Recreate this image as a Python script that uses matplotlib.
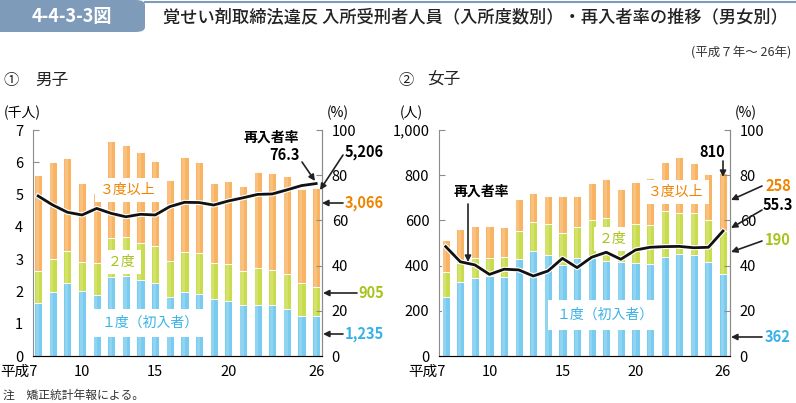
import numpy as np
import matplotlib.pyplot as plt
import matplotlib.patheffects as pe
import matplotlib.transforms as mtransforms
from matplotlib.patches import FancyBboxPatch

plt.rcParams['font.family'] = ['Noto Sans CJK JP', 'DejaVu Sans']

# ---------------- data ----------------
years = list(range(7, 27))   # 平成7年～26年
xlabels = ['平成7', '', '', '10', '', '', '', '', '15', '', '', '', '', '20', '', '', '', '', '', '26']

# 男子 (人)
m_first = [1630, 1970, 2250, 2020, 1880, 2460, 2490, 2350, 2270, 1840,
           1970, 1920, 1770, 1710, 1570, 1590, 1580, 1460, 1250, 1235]
m_second = [1010, 1020, 1010, 880, 1000, 1210, 1200, 1160, 1140, 1110,
            1260, 1280, 1120, 1130, 1070, 1140, 1090, 1090, 1020, 905]
m_third = [2960, 3010, 2870, 2470, 2170, 2990, 2840, 2820, 2630, 2500,
           2940, 2800, 2480, 2590, 2630, 2960, 2990, 3010, 2900, 3066]
m_rate = [70.8, 66.8, 63.6, 62.4, 65.3, 63.1, 61.6, 62.7, 62.4, 66.1,
          68.0, 67.9, 66.8, 68.6, 70.0, 71.5, 71.7, 73.5, 75.4, 76.3]

# 女子 (人)
f_first = [262, 326, 344, 354, 351, 429, 466, 445, 401, 432,
           432, 420, 417, 410, 406, 440, 450, 447, 417, 362]
f_second = [111, 84, 88, 78, 86, 125, 128, 139, 142, 140,
            170, 189, 155, 172, 174, 202, 184, 184, 185, 190]
f_third = [140, 150, 143, 143, 132, 141, 129, 125, 164, 136,
           162, 173, 167, 189, 209, 218, 248, 225, 203, 258]
f_rate = [48.4, 41.7, 40.3, 36.1, 38.4, 38.1, 35.4, 37.6, 43.2, 39.1,
          43.7, 45.9, 42.8, 46.9, 48.1, 48.4, 48.5, 47.9, 48.1, 55.3]

c_blue = '#7acbf0'
c_green = '#c9dc4e'
c_orange = '#f8b463'
t_blue = '#38b2e6'
t_green = '#a9c21c'
t_orange = '#f08300'
gray = '#8c8c8c'

W, H = 796, 403
fig = plt.figure(figsize=(W / 100, H / 100), dpi=100)


def fx(x):
    return x / W


def fy(y):
    return 1 - y / H


def ftext(x, y, s, **kw):
    fig.text(fx(x), fy(y), s, **kw)


def arrow(x0, y0, x1, y1):
    fig.add_artist(plt.Annotation('', xy=(fx(x1), fy(y1)), xytext=(fx(x0), fy(y0)),
                                  xycoords='figure fraction', textcoords='figure fraction',
                                  arrowprops=dict(arrowstyle='-|>', color='#222222', lw=1.2,
                                                  mutation_scale=9, shrinkA=0, shrinkB=0)))


def draw_panel(rect, first, second, third, rate, scale, ymax, yticks, yticklabels, xlim):
    ax = fig.add_axes(rect)
    x = np.arange(len(years))
    a = np.array(first) / scale
    b = np.array(second) / scale
    c = np.array(third) / scale
    kw = dict(width=0.56, edgecolor='white', linewidth=0.7, zorder=2)
    ax.bar(x, a, color=c_blue, **kw)
    ax.bar(x, b, bottom=a, color=c_green, **kw)
    ax.bar(x, c, bottom=a + b, color=c_orange, **kw)
    # light sheen on bars
    ax.bar(x - 0.06, a + b + c, width=0.22, color='white', alpha=0.18, linewidth=0, zorder=3)
    ax.set_xlim(*xlim)
    ax.set_ylim(0, ymax)
    ax.set_yticks(yticks)
    ax.set_yticklabels(yticklabels)
    ax.set_xticks(x)
    ax.set_xticklabels(xlabels)
    # 「平成7」は7が棒の下に来るよう右寄せ
    first_lab = ax.get_xticklabels()[0]
    first_lab.set_ha('right')
    first_lab.set_transform(first_lab.get_transform() +
                            mtransforms.ScaledTranslation(4 / 100, 0, fig.dpi_scale_trans))
    ax.spines['top'].set_visible(False)
    for s in ['left', 'bottom', 'right']:
        ax.spines[s].set_color(gray)
        ax.spines[s].set_linewidth(0.8)
    ax.tick_params(axis='y', direction='in', length=4, width=0.8, color=gray, labelsize=10.5, pad=7)
    ax.tick_params(axis='x', length=0, labelsize=10.5, pad=6.5)

    ax2 = ax.twinx()
    ax2.set_ylim(0, 100)
    ax2.set_yticks([0, 20, 40, 60, 80, 100])
    ax2.spines['top'].set_visible(False)
    ax2.spines['right'].set_color(gray)
    ax2.spines['right'].set_linewidth(0.8)
    ax2.spines['left'].set_visible(False)
    ax2.tick_params(axis='y', direction='in', length=4, width=0.8, color=gray, labelsize=10.5, pad=7)
    ax2.plot(x, rate, color='#111111', lw=2.0, zorder=5, solid_joinstyle='round',
             path_effects=[pe.Stroke(linewidth=3.6, foreground='white'), pe.Normal()])
    return ax, ax2


# ---------------- header ----------------
fig.add_artist(FancyBboxPatch((fx(-10), fy(32)), fx(155), fy(0) - fy(32),
                              boxstyle='round,pad=0,rounding_size=0.012',
                              transform=fig.transFigure, facecolor='#7e9bba', edgecolor='none'))
fig.add_artist(plt.Line2D([fx(145), 1], [fy(2), fy(2)], transform=fig.transFigure,
                          color='#7e9bba', lw=1.5))
ftext(72, 17, '4-4-3-3図', color='white', fontsize=13, fontweight='bold', ha='center', va='center')
ftext(163, 18, '覚せい剤取締法違反 入所受刑者人員（入所度数別）・再入者率の推移（男女別）',
      fontsize=12.4, fontweight='medium', color='#222222', ha='left', va='center')
ftext(791, 53, '(平成７年～ 26年)', fontsize=9, color='#333333', ha='right', va='center')

ftext(3, 80, '①', fontsize=11, ha='left', va='center', color='#222222')
ftext(35, 80, '男子', fontsize=12, ha='left', va='center', color='#222222')
ftext(398, 80, '②', fontsize=11, ha='left', va='center', color='#222222')
ftext(427, 80, '女子', fontsize=12, ha='left', va='center', color='#222222')

# ---------------- 男子 ----------------
ax_m, ax_m2 = draw_panel([fx(33), fy(356), (322 - 33) / W, 226 / H],
                         m_first, m_second, m_third, m_rate, 1000, 7,
                         range(0, 8), [str(v) for v in range(0, 8)], (-0.35, 19.4))
ftext(4, 113, '(千人)', fontsize=10, ha='left', va='center')
ftext(327, 113, '(%)', fontsize=10, ha='left', va='center')

box = dict(boxstyle='square,pad=0.35', facecolor='white', edgecolor='none')
ftext(128, 190, '３度以上', fontsize=10, color=t_orange, ha='center', va='center', bbox=box, zorder=6)
ftext(122, 262, '２度', fontsize=10, color=t_green, ha='center', va='center', bbox=box, zorder=6)
ftext(150, 323, '１度（初入者）', fontsize=10, color=t_blue, ha='center', va='center',
      bbox=dict(boxstyle='square,pad=0.5', facecolor='white', edgecolor='none'), zorder=6)

ftext(271, 138, '再入者率', fontsize=10, fontweight='bold', ha='center', va='center')
ftext(300, 155, '76.3', fontsize=10.5, fontweight='bold', ha='right', va='center')
arrow(302, 162, 315, 181)
ftext(345, 152, '5,206', fontsize=10.5, fontweight='bold', ha='left', va='center')
arrow(343, 155, 320, 190)
ftext(345, 203, '3,066', fontsize=10.5, fontweight='bold', color=t_orange, ha='left', va='center')
arrow(343, 203, 322, 203)
ftext(358, 293, '905', fontsize=10.5, fontweight='bold', color=t_green, ha='left', va='center')
arrow(357, 293, 323, 293)
ftext(345, 334, '1,235', fontsize=10.5, fontweight='bold', color=t_blue, ha='left', va='center')
arrow(343, 334, 323, 334)

# ---------------- 女子 ----------------
ax_f, ax_f2 = draw_panel([fx(439), fy(356), (730 - 439) / W, 226 / H],
                         f_first, f_second, f_third, f_rate, 1, 1000,
                         range(0, 1001, 200), ['0', '200', '400', '600', '800', '1,000'], (-0.46, 19.48))
ftext(400, 113, '(人)', fontsize=10, ha='left', va='center')
ftext(735, 113, '(%)', fontsize=10, ha='left', va='center')

ftext(676, 192, '３度以上', fontsize=10, color=t_orange, ha='center', va='center', bbox=box, zorder=6)
ftext(613, 239, '２度', fontsize=10, color=t_green, ha='center', va='center', bbox=box, zorder=6)
ftext(605, 315, '１度（初入者）', fontsize=10, color=t_blue, ha='center', va='center',
      bbox=dict(boxstyle='square,pad=0.6', facecolor='white', edgecolor='none'), zorder=6)

ftext(481, 192, '再入者率', fontsize=10, fontweight='bold', ha='center', va='center')
arrow(468, 204, 468, 262)
ftext(712, 152, '810', fontsize=10.5, fontweight='bold', ha='center', va='center')
arrow(723, 161, 723, 177)
ftext(765, 186, '258', fontsize=10.5, fontweight='bold', color=t_orange, ha='left', va='center')
arrow(762, 186, 731, 200)
ftext(763, 205, '55.3', fontsize=10.5, fontweight='bold', ha='left', va='center')
arrow(762, 210, 731, 228)
ftext(765, 240, '190', fontsize=10.5, fontweight='bold', color=t_green, ha='left', va='center')
arrow(762, 241, 731, 252)
ftext(765, 337, '362', fontsize=10.5, fontweight='bold', color=t_blue, ha='left', va='center')
arrow(762, 337, 731, 337)

ftext(3, 395, '注　矯正統計年報による。', fontsize=8.5, ha='left', va='center', color='#333333')

fig.savefig('out.png', dpi=100)
